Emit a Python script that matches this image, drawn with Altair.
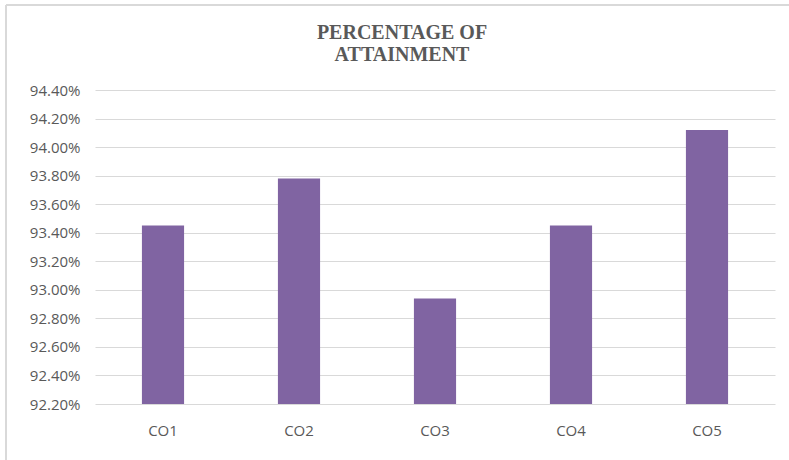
import altair as alt
import pandas as pd

# Course outcome attainment values (fractions of 1)
outcomes = ["CO1", "CO2", "CO3", "CO4", "CO5"]
attainment = [0.9345, 0.9378, 0.9294, 0.9345, 0.9412]

# Value axis range and tick marks
axis_min = 0.922
axis_max = 0.944
tick_values = [0.922, 0.924, 0.926, 0.928, 0.930, 0.932,
               0.934, 0.936, 0.938, 0.940, 0.942, 0.944]

# Two-line heading
title_lines = ["PERCENTAGE OF", "ATTAINMENT"]

df = pd.DataFrame({"outcome": outcomes, "attainment": attainment})

label_color = "#595959"
grid_color = "#d9d9d9"

bars = alt.Chart(df).mark_bar(color="#8064a2").encode(
    x=alt.X(
        "outcome:N",
        sort=outcomes,
        title=None,
        scale=alt.Scale(paddingInner=0.69, paddingOuter=0.345),
        axis=alt.Axis(
            labelAngle=0,
            labelFont="Open Sans",
            labelFontSize=15,
            labelColor=label_color,
            labelPadding=19,
            ticks=False,
            tickSize=0,
            domain=False,
            grid=False,
        ),
    ),
    y=alt.Y(
        "attainment:Q",
        title=None,
        scale=alt.Scale(domain=[axis_min, axis_max], zero=False, nice=False),
        axis=alt.Axis(
            values=tick_values,
            format=".2%",
            labelFont="Open Sans",
            labelFontSize=15,
            labelColor=label_color,
            labelPadding=15,
            ticks=False,
            tickSize=0,
            domain=False,
            gridColor=grid_color,
            gridWidth=1,
        ),
    ),
    y2=alt.Y2(datum=axis_min),
)

# Heading drawn as text marks above the plot
heading_df = pd.DataFrame({"line": title_lines, "row": [0, 1]})
heading = alt.Chart(heading_df).mark_text(
    font="Liberation Serif",
    fontSize=20,
    fontWeight="bold",
    color=label_color,
    align="center",
    baseline="middle",
).encode(
    text="line:N",
    x=alt.value(307),
    y=alt.Y(
        "row:Q",
        axis=None,
        scale=alt.Scale(domain=[0, 1], range=[-57, -35], zero=False, nice=False),
    ),
)

# Thin frame lines along the top and left edges of the chart area
frame_df = pd.DataFrame({"k": [0]})
top_edge = alt.Chart(frame_df).mark_rule(color=grid_color, strokeWidth=2).encode(
    x=alt.value(-89), x2=alt.value(694), y=alt.value(-85)
)
left_edge = alt.Chart(frame_df).mark_rule(color=grid_color, strokeWidth=2).encode(
    x=alt.value(-89), y=alt.value(-85), y2=alt.value(370)
)

chart = alt.layer(bars, heading, top_edge, left_edge).resolve_scale(
    y="independent"
).properties(
    width=680,
    height=314,
    autosize=alt.AutoSizeParams(type="none"),
    padding={"left": 95, "top": 90, "right": 14, "bottom": 56},
    background="white",
).configure_view(stroke=None)

chart.save("out.html", embed_options={"renderer": "svg", "actions": False})
